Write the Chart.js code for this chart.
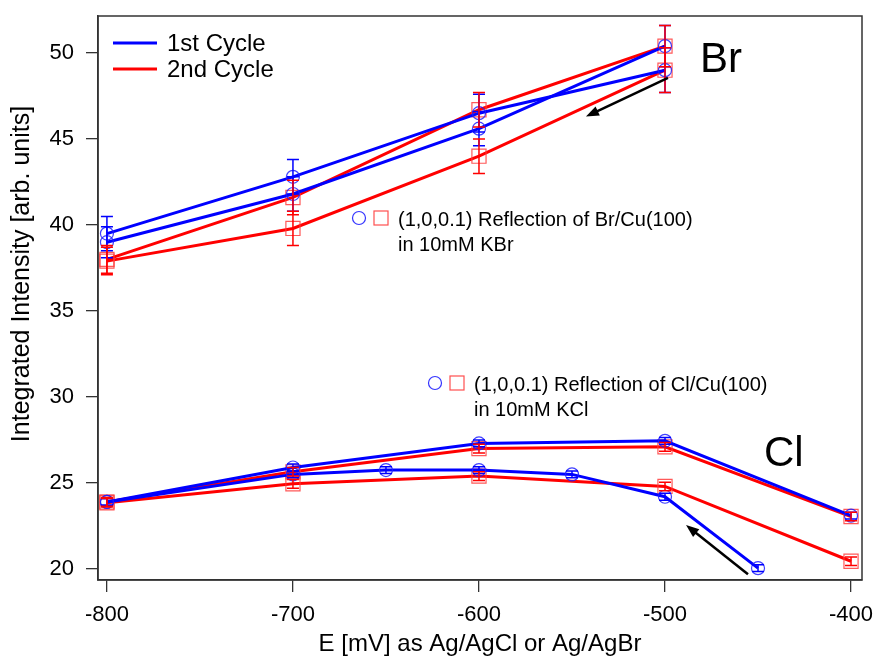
<!DOCTYPE html>
<html>
<head>
<meta charset="utf-8">
<script src="https://cdn.jsdelivr.net/npm/chart.js@4.4.1/dist/chart.umd.min.js"></script>
<style>
  html, body { margin: 0; padding: 0; background: #fff; }
  #wrap { width: 878px; height: 656px; }
</style>
</head>
<body>
<div id="wrap"><canvas id="chart" width="878" height="656"></canvas></div>
<script>
// Br/Cu(100) and Cl/Cu(100) (1,0,0.1) reflection intensity vs potential
// values

const xTicks = [-800, -700, -600, -500, -400];
const yTicks = [20, 25, 30, 35, 40, 45, 50];

// Br, 1st cycle (blue circles)
const brBlueUpE = [-800, -700, -600, -500];
const brBlueUpI = [39.0, 41.8, 45.6, 50.4];
const brBlueUpErr = [0.9, 1.0, 1.0, 1.2];
const brBlueDownE = [-500, -600, -700, -800];
const brBlueDownI = [49.0, 46.5, 42.8, 39.5];
const brBlueDownErr = [1.3, 1.1, 1.0, 1.0];

// Br, 2nd cycle (red squares)
const brRedUpE = [-800, -700, -600, -500];
const brRedUpI = [38.0, 41.6, 46.7, 50.4];
const brRedUpErr = [0.8, 1.0, 1.0, 1.2];
const brRedDownE = [-500, -600, -700, -800];
const brRedDownI = [49.0, 44.0, 39.8, 37.9];
const brRedDownErr = [1.3, 1.0, 1.0, 0.8];

// Cl, 1st cycle
const clBlueUpE = [-800, -700, -600, -500, -400];
const clBlueUpI = [23.9, 25.9, 27.3, 27.45, 23.1];
const clBlueUpErr = [0.2, 0.2, 0.2, 0.2, 0.2];
const clBlueDownE = [-800, -700, -650, -600, -550, -500, -450];
const clBlueDownI = [23.9, 25.5, 25.75, 25.75, 25.5, 24.2, 20.05];
const clBlueDownErr = [0.2, 0.2, 0.2, 0.2, 0.2, 0.2, 0.2];

// Cl, 2nd cycle
const clRedUpE = [-800, -700, -600, -500, -400];
const clRedUpI = [23.9, 25.65, 27.0, 27.1, 23.05];
const clRedUpErr = [0.25, 0.25, 0.25, 0.25, 0.25];
const clRedDownE = [-800, -700, -600, -500, -400];
const clRedDownI = [23.85, 24.95, 25.4, 24.8, 20.45];
const clRedDownErr = [0.25, 0.25, 0.25, 0.25, 0.25];

const FONT = "'Liberation Sans', Arial, Helvetica, sans-serif";
const BLUE = "#0000ff";
const RED = "#ff0000";

function pts(xs, ys) {
  return xs.map((x, i) => ({ x: x, y: ys[i] }));
}

function blueSet(xs, ys, errs) {
  return {
    data: pts(xs, ys), errors: errs,
    showLine: true, borderColor: BLUE, borderWidth: 3,
    pointStyle: "circle", pointRadius: 6.5, pointBorderWidth: 1.2,
    pointBorderColor: "rgba(30,30,255,0.85)", pointBackgroundColor: "rgba(0,0,0,0)"
  };
}

function redSet(xs, ys, errs) {
  return {
    data: pts(xs, ys), errors: errs,
    showLine: true, borderColor: RED, borderWidth: 3,
    pointStyle: "rect", pointRadius: 10, pointBorderWidth: 1.2,
    pointBorderColor: "rgba(255,60,60,0.85)", pointBackgroundColor: "rgba(0,0,0,0)"
  };
}

const datasets = [
  blueSet(brBlueUpE, brBlueUpI, brBlueUpErr),
  blueSet(brBlueDownE, brBlueDownI, brBlueDownErr),
  blueSet(clBlueUpE, clBlueUpI, clBlueUpErr),
  blueSet(clBlueDownE, clBlueDownI, clBlueDownErr),
  redSet(brRedUpE, brRedUpI, brRedUpErr),
  redSet(brRedDownE, brRedDownI, brRedDownErr),
  redSet(clRedUpE, clRedUpI, clRedUpErr),
  redSet(clRedDownE, clRedDownI, clRedDownErr)
];

function arrow(ctx, x0, y0, x1, y1) {
  const ang = Math.atan2(y1 - y0, x1 - x0);
  const head = 13, wing = 5;
  ctx.save();
  ctx.strokeStyle = "#000";
  ctx.fillStyle = "#000";
  ctx.lineWidth = 2.5;
  ctx.beginPath();
  ctx.moveTo(x0, y0);
  ctx.lineTo(x1 - Math.cos(ang) * head * 0.8, y1 - Math.sin(ang) * head * 0.8);
  ctx.stroke();
  ctx.beginPath();
  ctx.moveTo(x1, y1);
  ctx.lineTo(x1 - head * Math.cos(ang) + wing * Math.sin(ang), y1 - head * Math.sin(ang) - wing * Math.cos(ang));
  ctx.lineTo(x1 - head * Math.cos(ang) - wing * Math.sin(ang), y1 - head * Math.sin(ang) + wing * Math.cos(ang));
  ctx.closePath();
  ctx.fill();
  ctx.restore();
}

// no extra room for overhanging tick labels, the plot box is fixed
function noPad(s) {
  s.paddingTop = 0; s.paddingBottom = 0; s.paddingLeft = 0; s.paddingRight = 0;
}

const extras = {
  id: "extras",
  afterDatasetsDraw(chart) {
    const { ctx, chartArea: a, scales: { x, y } } = chart;

    // error bars
    chart.data.datasets.forEach(ds => {
      if (!ds.errors) return;
      ctx.save();
      ctx.strokeStyle = ds.borderColor;
      ctx.lineWidth = 1.5;
      ds.data.forEach((p, i) => {
        const e = ds.errors[i];
        const px = x.getPixelForValue(p.x);
        const yt = y.getPixelForValue(p.y + e);
        const yb = y.getPixelForValue(p.y - e);
        ctx.beginPath();
        ctx.moveTo(px, yt); ctx.lineTo(px, yb);
        ctx.moveTo(px - 6, yt); ctx.lineTo(px + 6, yt);
        ctx.moveTo(px - 6, yb); ctx.lineTo(px + 6, yb);
        ctx.stroke();
      });
      ctx.restore();
    });

    // direction arrows
    arrow(ctx, x.getPixelForValue(-498.4), y.getPixelForValue(48.55),
               x.getPixelForValue(-542.5), y.getPixelForValue(46.3));
    arrow(ctx, x.getPixelForValue(-455.4), y.getPixelForValue(19.7),
               x.getPixelForValue(-488.7), y.getPixelForValue(22.56));

    // frame
    ctx.save();
    ctx.strokeStyle = "#333";
    ctx.lineWidth = 1.5;
    ctx.strokeRect(a.left, a.top, a.right - a.left, a.bottom - a.top);
    ctx.restore();

    ctx.save();
    ctx.fillStyle = "#000";
    ctx.textBaseline = "alphabetic";
    ctx.textAlign = "left";

    // legend
    ctx.lineWidth = 3;
    ctx.strokeStyle = BLUE;
    ctx.beginPath(); ctx.moveTo(113, 43); ctx.lineTo(157, 43); ctx.stroke();
    ctx.strokeStyle = RED;
    ctx.beginPath(); ctx.moveTo(113, 69); ctx.lineTo(157, 69); ctx.stroke();
    ctx.font = "24px " + FONT;
    ctx.fillText("1st Cycle", 167, 51);
    ctx.fillText("2nd Cycle", 167, 77);

    // big labels
    ctx.font = "42px " + FONT;
    ctx.fillText("Br", 700, 72);
    ctx.fillText("Cl", 764, 466);

    // annotations
    const note = (cx, cy, line1, line2) => {
      ctx.lineWidth = 1.2;
      ctx.strokeStyle = "rgba(30,30,255,0.9)";
      ctx.beginPath(); ctx.arc(cx, cy, 6.5, 0, Math.PI * 2); ctx.stroke();
      ctx.strokeStyle = "rgba(255,60,60,0.9)";
      ctx.strokeRect(cx + 15, cy - 7, 14, 14);
      ctx.font = "20px " + FONT;
      ctx.fillText(line1, cx + 39, cy + 8);
      ctx.fillText(line2, cx + 39, cy + 33);
    };
    note(359, 218, "(1,0,0.1) Reflection of Br/Cu(100)", "in 10mM KBr");
    note(435, 383, "(1,0,0.1) Reflection of Cl/Cu(100)", "in 10mM KCl");

    // y axis title, sits a bit above the plot centre in the original
    ctx.translate(22, 274);
    ctx.rotate(-Math.PI / 2);
    ctx.textAlign = "center";
    ctx.textBaseline = "middle";
    ctx.font = "25px " + FONT;
    ctx.fillText("Integrated Intensity [arb. units]", 0, 0);
    ctx.restore();
  }
};

new Chart(document.getElementById("chart"), {
  type: "scatter",
  data: { datasets },
  options: {
    responsive: false,
    devicePixelRatio: 1,
    animation: false,
    layout: { padding: { top: 16, right: 16, left: 0, bottom: 0 } },
    plugins: { legend: { display: false }, tooltip: { enabled: false } },
    scales: {
      x: {
        type: "linear",
        min: -804.8,
        max: -394.1,
        afterBuildTicks: s => { s.ticks = xTicks.map(v => ({ value: v })); },
        afterFit: s => { s.height = 76; noPad(s); },
        ticks: { font: { family: FONT, size: 22 }, color: "#000", padding: 10, maxRotation: 0 },
        grid: { drawOnChartArea: false, tickLength: 12, color: "#333", lineWidth: 1.3 },
        border: { color: "#333", width: 1.5 },
        title: {
          display: true, text: "E [mV] as Ag/AgCl or Ag/AgBr", color: "#000",
          font: { family: FONT, size: 24, lineHeight: 1 }, padding: { top: 0, bottom: 0 }
        }
      },
      y: {
        type: "linear",
        min: 19.36,
        max: 52.15,
        afterBuildTicks: s => { s.ticks = yTicks.map(v => ({ value: v })); },
        afterFit: s => { s.width = 98; noPad(s); },
        ticks: { font: { family: FONT, size: 22 }, color: "#000", padding: 12 },
        grid: { drawOnChartArea: false, tickLength: 12, color: "#333", lineWidth: 1.3 },
        border: { color: "#333", width: 1.5 },
        title: { display: false }
      }
    }
  },
  plugins: [extras]
});
</script>
</body>
</html>
